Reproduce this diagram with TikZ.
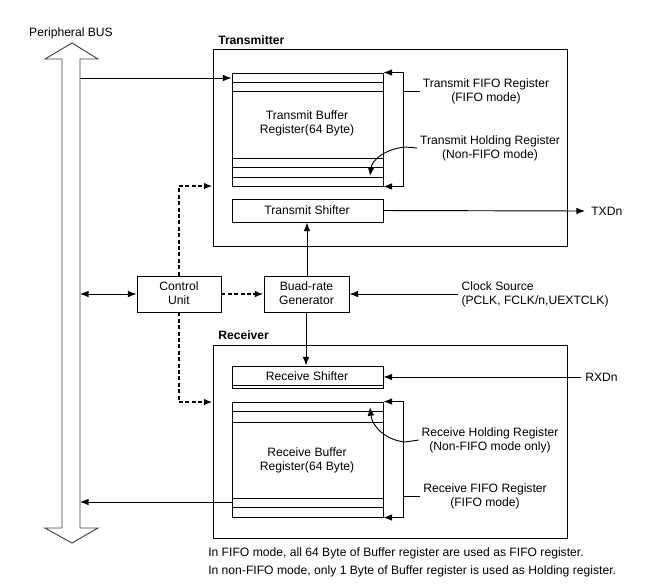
\documentclass[tikz,border=0pt]{standalone}
\usepackage{fontspec}
\setmainfont{Liberation Sans}
\usetikzlibrary{arrows.meta,fit}
\begin{document}
\begin{tikzpicture}[x=0.75pt,y=-0.75pt,
  every node/.style={font=\fontsize{9.1}{10.5}\selectfont},
  box/.style={draw,line width=0.7pt,inner sep=0pt},
  txt/.style={align=center,inner sep=0pt},
  ln/.style={line width=0.7pt},
  arr/.style={line width=0.7pt,-{Latex[length=6.5pt,width=5pt]}},
  darr/.style={line width=0.7pt,{Latex[length=6.5pt,width=5pt]}-{Latex[length=6.5pt,width=5pt]}},
  dsh/.style={line width=1.4pt,dash pattern=on 3pt off 1.8pt,-{Latex[length=6.5pt,width=5pt]}},
  busline/.style={draw=black!75,line width=0.7pt},
]
\useasboundingbox (0,0) rectangle (653,583);

% Peripheral bus
\draw[busline] (62,528) -- (62,59) -- (45,59) -- (72,43) -- (98,59) -- (80,59)
  -- (80,528) -- (98,528) -- (72,543) -- (45,528) -- cycle;
\node[txt] (buslbl) at (71,33) {Peripheral BUS};
\coordinate (busT) at (80,78);
\coordinate (busC) at (80,294);
\coordinate (busR) at (80,502);

% Transmitter
\node[box, fit={(213,49) (567,246)}] (txbox) {};
\node[txt, anchor=west, font=\fontsize{9.1}{10.5}\selectfont\bfseries] (txlbl) at (218,40) {Transmitter};
\node[box, fit={(232,73) (383,186)}] (tbuf) {};
\draw[ln] (232,82) -- (383,82);
\draw[ln] (232,91) -- (383,91);
\draw[ln] (232,158) -- (383,158);
\draw[ln] (232,167) -- (383,167);
\draw[ln] (232,177) -- (383,177);
\node[txt] (tbuftxt) at (307,123.5) {Transmit Buffer\\Register(64 Byte)};
\node[box, fit={(232,199) (383,222)}] (tshift) {};
\node[txt] (tshifttxt) at (307,210.5) {Transmit Shifter};

\node[txt] (tfifo) at (486,91) {Transmit FIFO Register\\(FIFO mode)};
\node[txt] (thold) at (490,148) {Transmit Holding Register\\(Non-FIFO mode)};
\coordinate (tbr) at (403,130);
\draw[arr] (tbr) |- (tbuf.north east);
\draw[arr] (tbr) |- (tbuf.south east);
\draw[ln] ([xshift=-2pt]tfifo.west) -- (tfifo.west -| tbr);
\draw[arr] ([xshift=-2pt]thold.west) -- (405,147) .. controls (385,149) and (372,160) .. (370,176);

% TXDn
\node[anchor=west, inner xsep=4.5pt, inner ysep=0pt] (txd) at (585,211) {TXDn};
\draw[arr] (tshift.east) -- (txd.west);

% Receiver
\node[box, fit={(213,345) (567,538)}] (rxbox) {};
\node[txt, anchor=west, font=\fontsize{9.1}{10.5}\selectfont\bfseries] (rxlbl) at (218,335) {Receiver};
\node[box, fit={(232,366) (383,388)}] (rshift) {};
\draw[ln] (232,385) -- (383,385);
\node[txt] (rshifttxt) at (307,376) {Receive Shifter};

\node[box, fit={(232,402) (383,517)}] (rbuf) {};
\draw[ln] (232,411) -- (383,411);
\draw[ln] (232,422) -- (383,422);
\draw[ln] (232,498) -- (383,498);
\draw[ln] (232,507) -- (383,507);
\node[txt] (rbuftxt) at (307,460.5) {Receive Buffer\\Register(64 Byte)};

\node[txt] (rhold) at (490,440) {Receive Holding Register\\(Non-FIFO mode only)};
\node[txt] (rfifo) at (485,496) {Receive FIFO Register\\(FIFO mode)};
\coordinate (rbr) at (403,460);
\draw[arr] (rbr) |- (rbuf.north east);
\draw[arr] (rbr) |- (rbuf.south east);
\draw[ln] ([xshift=-2pt]rfifo.west) -- (rfifo.west -| rbr);
\draw[arr] ([xshift=-2pt]rhold.west) -- (405,442) .. controls (385,440) and (372,426) .. (370,407);

% RXDn
\node[anchor=west, inner xsep=3pt, inner ysep=0pt] (rxd) at (581,377) {RXDn};
\draw[arr] (rxd.west) -- (rshift.east);

% Control unit and baud-rate generator
\node[box, fit={(137,276) (221,312)}] (ctrl) {};
\node[txt] (ctrltxt) at (179,293.5) {Control\\Unit};
\node[box, fit={(264,276) (349,312)}] (baud) {};
\node[txt] (baudtxt) at (306.5,293.5) {Buad-rate\\Generator};
\draw[darr] (busC) -- (ctrl.west);
\draw[dsh] (ctrl.east) -- (baud.west);
\draw[arr] (baud.north -| 307,0) -- (tshift.south -| 307,0);
\draw[arr] (baud.south -| 306,0) -- (rshift.north -| 306,0);
\node[anchor=west, align=left, inner xsep=2.5pt, inner ysep=0pt] (clk) at (458,294) {Clock Source\\(PCLK, FCLK/n,UEXTCLK)};
\draw[arr] (clk.west) -- (baud.east);
\draw[dsh] (ctrl.north) |- (txbox.west |- 0,186);
\draw[dsh] (ctrl.south) |- (rxbox.west |- 0,402);

% Bus connections
\draw[arr] (busT) -- (tbuf.west |- busT);
\draw[arr] (rbuf.west |- busR) -- (busR);

% Notes
\node[anchor=west, inner sep=0pt] (note1) at (208,553) {In FIFO mode, all 64 Byte of Buffer register are used as FIFO register.};
\node[anchor=west, inner sep=0pt] (note2) at (208,571) {In non-FIFO mode, only 1 Byte of Buffer register is used as Holding register.};
\end{tikzpicture}
\end{document}
